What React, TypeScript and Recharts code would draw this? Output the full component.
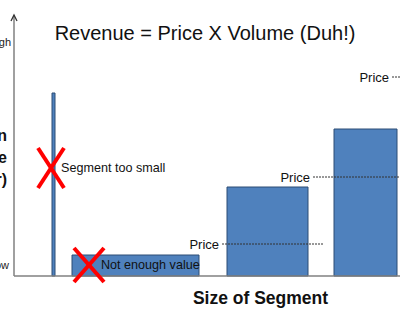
import {
  ComposedChart,
  XAxis,
  YAxis,
  ReferenceArea,
  ReferenceLine,
  ReferenceDot,
} from "recharts";

const FONT = "'Liberation Sans', Arial, sans-serif";

// segments: size along x, value (price) along y
const segNames = ["Tiny", "Low value", "Mid", "Large"];
const segStart = [38, 58, 213, 320];
const segEnd = [41, 185, 294, 383];
const segHeight = [183, 21, 89, 147];

// price markers
const priceLevel = [32, 99, 199];
const priceFrom = [208, 299, 378];
const priceTo = [309, 386, 386];

// red crosses
const flagX = [37, 75];
const flagY = [108, 11];
const flagText = ["Segment too small", "Not enough value"];
const flagHalfW = [13, 15];
const flagHalfH = [20, 17];
const flagTextDx = [10, 12];

const leftLines = ["Spend per Person", "per Purchase", "(Per Customer)"];

const segData = segNames.map((name, i) => ({
  name,
  start: segStart[i],
  end: segEnd[i],
  h: segHeight[i],
}));

const Cross = (i: number) => (props: any) => {
  const { cx, cy } = props;
  const w = flagHalfW[i];
  const h = flagHalfH[i];
  return (
    <g>
      <line x1={cx - w} y1={cy - h} x2={cx + w} y2={cy + h} stroke="#ff0000" strokeWidth={4} />
      <line x1={cx + w} y1={cy - h} x2={cx - w} y2={cy + h} stroke="#ff0000" strokeWidth={4} />
      <text
        x={cx + flagTextDx[i]}
        y={cy + 4}
        fontSize={12.6}
        fontFamily={FONT}
        fill="#111"
      >
        {flagText[i]}
      </text>
    </g>
  );
};

export default function App() {
  return (
    <div style={{ position: "absolute", left: 0, top: 0, width: 400, height: 320, background: "#fff" }}>
      <ComposedChart
        width={400}
        height={320}
        data={segData}
        margin={{ top: 15, right: 0, bottom: 44, left: 14 }}
      >
        <XAxis type="number" dataKey="start" domain={[0, 386]} allowDataOverflow hide />
        <YAxis type="number" domain={[0, 261]} allowDataOverflow hide />

        {segData.map((s) => (
          <ReferenceArea
            key={s.name}
            x1={s.start}
            x2={s.end}
            y1={0}
            y2={s.h}
            fill="#4f81bd"
            fillOpacity={1}
            stroke="#2c4d75"
            strokeWidth={1}
            ifOverflow="extendDomain"
          />
        ))}

        {/* axes */}
        <ReferenceLine
          segment={[{ x: 0, y: 0 }, { x: 386, y: 0 }]}
          stroke="#808080"
          strokeWidth={1.5}
        />
        <ReferenceLine
          segment={[{ x: 0, y: 0 }, { x: 0, y: 261 }]}
          stroke="#808080"
          strokeWidth={1.5}
        />
        <ReferenceDot
          x={0}
          y={261}
          shape={(p: any) => (
            <path
              d={`M${p.cx - 3},${p.cy + 6} L${p.cx},${p.cy} L${p.cx + 3},${p.cy + 6}`}
              fill="none"
              stroke="#333"
              strokeWidth={1.3}
            />
          )}
        />

        {priceLevel.map((lv, i) => (
          <ReferenceLine
            key={"p" + i}
            segment={[{ x: priceFrom[i], y: lv }, { x: priceTo[i], y: lv }]}
            stroke="#333"
            strokeWidth={1}
            strokeDasharray="2 1"
            label={{
              value: "Price",
              position: "left",
              offset: 3,
              fontSize: 13,
              fontFamily: FONT,
              fill: "#111",
            }}
          />
        ))}

        {flagX.map((fx, i) => (
          <ReferenceDot key={"f" + i} x={fx} y={flagY[i]} shape={Cross(i)} />
        ))}
      </ComposedChart>

      <svg
        width={400}
        height={320}
        style={{ position: "absolute", left: 0, top: 0, pointerEvents: "none" }}
      >
        <text x={205} y={40} textAnchor="middle" fontSize={20} fontFamily={FONT} fill="#111">
          Revenue = Price X Volume (Duh!)
        </text>
        <text x={11} y={46} textAnchor="end" fontSize={11} fontFamily={FONT} fill="#222">
          High
        </text>
        <text x={9} y={269} textAnchor="end" fontSize={11} fontFamily={FONT} fill="#222">
          Low
        </text>
        {leftLines.map((t, i) => (
          <text
            key={t}
            x={7}
            y={141 + i * 22}
            textAnchor="end"
            fontSize={16}
            fontWeight="bold"
            fontFamily={FONT}
            fill="#111"
          >
            {t}
          </text>
        ))}
        <text x={260.5} y={304} textAnchor="middle" fontSize={17.5} fontWeight="bold" fontFamily={FONT} fill="#111">
          Size of Segment
        </text>
      </svg>
    </div>
  );
}
